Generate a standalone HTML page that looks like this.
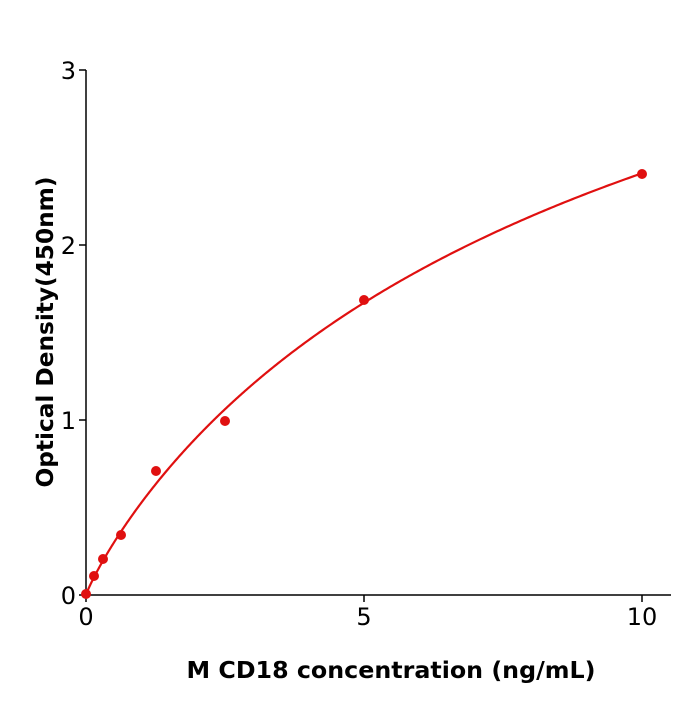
<!DOCTYPE html>
<html><head><style>html,body{margin:0;padding:0;background:#fff}</style></head>
<body>
<svg width="700" height="700" viewBox="0 0 700 700" xmlns="http://www.w3.org/2000/svg" font-family="'DejaVu Sans', 'Liberation Sans', sans-serif">
<rect width="700" height="700" fill="#fff"/>
<g stroke="#000" stroke-width="1.5" fill="none">
<line x1="86" y1="70" x2="86" y2="595.5"/>
<line x1="85.3" y1="595" x2="671" y2="595"/>
<line x1="79" y1="70" x2="86" y2="70"/>
<line x1="79" y1="245" x2="86" y2="245"/>
<line x1="79" y1="420" x2="86" y2="420"/>
<line x1="79" y1="595" x2="86" y2="595"/>
<line x1="86" y1="595" x2="86" y2="602"/>
<line x1="364" y1="595" x2="364" y2="602"/>
<line x1="642" y1="595" x2="642" y2="602"/>
</g>
<g font-size="24" fill="#000" text-anchor="end">
<text x="76" y="79">3</text>
<text x="76" y="254">2</text>
<text x="76" y="429">1</text>
<text x="76" y="604">0</text>
</g>
<g font-size="24" fill="#000" text-anchor="middle">
<text x="86" y="625">0</text>
<text x="364" y="625">5</text>
<text x="642" y="625">10</text>
</g>
<text x="391" y="678" font-size="23" font-weight="bold" text-anchor="middle" textLength="409" lengthAdjust="spacingAndGlyphs">M  CD18 concentration (ng/mL)</text>
<text transform="translate(53,332) rotate(-90)" font-size="23" font-weight="bold" text-anchor="middle" textLength="311" lengthAdjust="spacingAndGlyphs">Optical Density(450nm)</text>
<path id="curve" fill="none" stroke="#e01010" stroke-width="2.2" stroke-linejoin="round" d="M86,595 L120.8,532 L155.5,474.3 L225,406 L364,302.8 L503,231 L642,173.3"/>
<g fill="#e01010">
<circle cx="86" cy="594" r="5"/>
<circle cx="94" cy="576" r="5"/>
<circle cx="103" cy="559" r="5"/>
<circle cx="121" cy="535" r="5"/>
<circle cx="156" cy="471" r="5"/>
<circle cx="225" cy="421" r="5"/>
<circle cx="364" cy="300" r="5"/>
<circle cx="642" cy="174" r="5"/>
</g>
</svg>
<script>
(function(){
function f(x){var xb=Math.pow(x,0.9);return 4.934*xb/(8.32+xb);}
var d="";
for(var i=0;i<=400;i++){
var x=10*Math.pow(i/400,2);
var px=86+55.6*x, py=595-175*f(x);
d+=(i?" L":"M")+px.toFixed(2)+","+py.toFixed(2);
}
document.getElementById("curve").setAttribute("d",d);
})();
</script>
</body></html>
